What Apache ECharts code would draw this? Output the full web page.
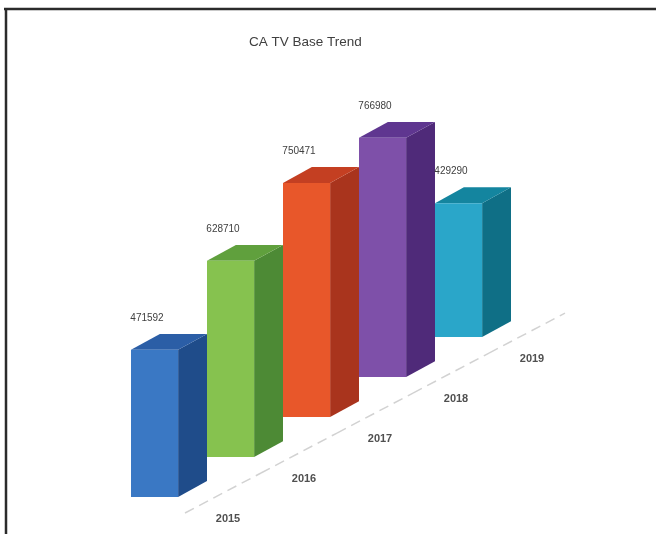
<!DOCTYPE html>
<html><head><meta charset="utf-8">
<script src="https://cdn.jsdelivr.net/npm/echarts@6/dist/echarts.min.js"></script>
<style>html,body{margin:0;padding:0;background:#fff}#c{width:656px;height:534px}</style>
</head><body><div id="c"></div>
<script>
const categories = ['2015', '2016', '2017', '2018', '2019'];
const values = [471592, 628710, 750471, 766980, 429290];
const frontColors = ['#3a78c4', '#86c24f', '#e8572a', '#7e50a9', '#2aa6c9'];
const sideColors  = ['#1f4c8a', '#4d8a35', '#a9341d', '#4f2a79', '#0f6f86'];
const topColors   = ['#2b5ea6', '#60a03d', '#c43f22', '#5f3690', '#14859f'];

const chart = echarts.init(document.getElementById('c'), null, {renderer: 'canvas'});
const FLOOR_SLOPE = 0.526;   // projected floor rise per px along the category axis
const FRONT_RATIO = 0.62;    // share of the band taken by the front face
const DEPTH_SLOPE = 0.55;    // rise of the bar depth
const txtFont = 'Liberation Sans';

function geom(api) {
  const i = api.value(0), v = api.value(1);
  const base = api.coord([i, 0]);
  const topP = api.coord([i, v]);
  const band = api.size([1, 0])[0];
  const rise = band * FLOOR_SLOPE * i;
  const xl = base[0] - band / 2;
  const fw = band * FRONT_RATIO;
  return { i, v, band, xl, fw, xr: xl + fw, dx: band - fw, dy: -(band - fw) * DEPTH_SLOPE,
           yb: base[1] - rise, yt: topP[1] - rise };
}

function renderBar(params, api) {
  const g = geom(api);
  const { i, band, xl, xr, fw, dx, dy, yb, yt } = g;
  const zb = 100 - i * 5;
  return {
    type: 'group',
    children: [
      { type: 'line', z2: 1,
        shape: { x1: xl + 54, y1: yb + 16, x2: xl + 54 + band, y2: yb + 16 - band * FLOOR_SLOPE },
        style: { stroke: '#d2d2d2', lineWidth: 1.5, lineDash: [10, 6] } },
      { type: 'polygon', z2: zb,
        shape: { points: [[xr, yt], [xr + dx, yt + dy], [xr + dx, yb + dy], [xr, yb]] },
        style: { fill: sideColors[i] } },
      { type: 'polygon', z2: zb + 1,
        shape: { points: [[xl, yt], [xl + dx, yt + dy], [xr + dx, yt + dy], [xr, yt]] },
        style: { fill: topColors[i] } },
      { type: 'rect', z2: zb + 2,
        shape: { x: xl, y: yt, width: fw, height: yb - yt },
        style: { fill: frontColors[i] } }
    ]
  };
}

function renderLabels(params, api) {
  const { i, xl, yb, yt } = geom(api);
  return {
    type: 'group',
    children: [
      { type: 'text',
        style: { x: xl + 16, y: yt - 32, text: String(values[i]), align: 'center', verticalAlign: 'middle',
                 fill: '#404040', font: '10px "' + txtFont + '"' } },
      { type: 'text',
        style: { x: xl + 97, y: yb + 22, text: categories[i], align: 'center', verticalAlign: 'middle',
                 fill: '#505050', font: 'bold 11px "' + txtFont + '"' } }
    ]
  };
}

const seriesData = values.map((v, i) => [i, v]);

chart.setOption({
  backgroundColor: '#ffffff',
  animation: false,
  title: {
    text: 'CA TV Base Trend', left: 249, top: 35, padding: 0,
    textStyle: { fontSize: 13.5, fontWeight: 'normal', color: '#404040', fontFamily: txtFont }
  },
  grid: { left: 131, right: 145, top: 185, bottom: 37 },
  xAxis: { type: 'category', data: categories, show: false },
  yAxis: { type: 'value', min: 0, max: 1000000, show: false },
  graphic: [
    { type: 'line', shape: { x1: 4, y1: 9, x2: 656, y2: 9 }, style: { stroke: '#2b2b2b', lineWidth: 2.5 } },
    { type: 'line', shape: { x1: 6, y1: 8, x2: 6, y2: 534 }, style: { stroke: '#2b2b2b', lineWidth: 2.5 } }
  ],
  series: [
    { type: 'custom', renderItem: renderBar, clip: false, z: 2, data: seriesData },
    { type: 'custom', renderItem: renderLabels, clip: false, z: 10, silent: true, data: seriesData }
  ]
});
</script></body></html>
